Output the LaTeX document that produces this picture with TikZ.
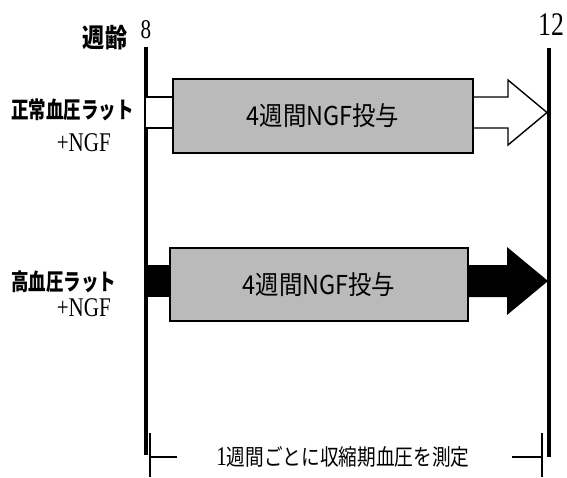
\documentclass[tikz,border=0pt]{standalone}
\usepackage{fontspec}
\setmainfont{Liberation Serif}
\newfontfamily\jplab[FakeStretch=0.76]{Noto Sans CJK JP}
\newfontfamily\jpbox[FakeStretch=0.9]{Noto Sans CJK JP}
\newfontfamily\jpbot[FakeStretch=0.83]{Noto Sans CJK JP}
\newfontfamily\jpage[FakeStretch=0.85]{Noto Sans CJK JP}
\newfontfamily\srf[FakeStretch=0.78]{Liberation Serif}
\tikzset{
  axisline/.style={line width=3.5pt},
  treat/.style={draw, line width=1.6pt, fill=black!27, inner sep=0pt, font=\jpbox\fontsize{26}{26}\selectfont},
  shaft/.style={line width=1.4pt},
  bracket/.style={line width=1.8pt},
  lab/.style={inner sep=0pt, font=\jplab\bfseries\fontsize{23}{23}\selectfont},
  ser/.style={inner sep=0pt, font=\srf\fontsize{27}{27}\selectfont},
}
\begin{document}
\begin{tikzpicture}[x=1pt,y=-1pt]
\useasboundingbox (0,0) rectangle (567,477);
% axes
\coordinate (L0) at (146,47);
\coordinate (L1) at (146,455);
\coordinate (R0) at (549,48);
\coordinate (R1) at (549,457);
\draw[axisline] (L0) -- (L1);
\draw[axisline] (R0) -- (R1);
% header
\node[inner sep=0pt, font=\jpage\bfseries\fontsize{26}{26}\selectfont] (age) at (105,38) {週齢};
\node[ser] (w8) at (146,30) {8};
\node[ser, font=\srf\fontsize{33}{33}\selectfont] (w12) at (551,25) {12};
% labels
\node[lab, anchor=west] (n1) at (11,110) {正常血圧ラット};
\node[ser, anchor=east] (n2) at (111,143) {+NGF};
\node[lab, anchor=west] (h1) at (11,282) {高血圧ラット};
\node[ser, anchor=east] (h2) at (111,308) {+NGF};
% top white arrow
\draw[shaft, fill=white] (146,97) -- (173,97) -- (173,128) -- (146,128);
\draw[shaft, fill=white, line join=miter] (473,97) -- (508,97) -- (508,80) -- (547,112.5) -- (508,145) -- (508,128) -- (473,128);
\node[treat, minimum width=300pt, minimum height=74pt] (b1) at (323,116) {4週間NGF投与};
% bottom black arrow
\fill (146,265) rectangle (170,297);
\fill (466,265) -- (507,265) -- (507,247) -- (548,281) -- (507,315) -- (507,297) -- (466,297) -- cycle;
\node[treat, minimum width=298pt, minimum height=73pt] (b2) at (319,284.5) {4週間NGF投与};
% bracket
\draw[bracket] (150,433) -- (150,477);
\draw[bracket] (150,457) -- (177,457);
\draw[bracket] (542,433) -- (542,477);
\draw[bracket] (512,457) -- (542,457);
\node[inner sep=0pt, font=\jpbot\fontsize{22.5}{22.5}\selectfont] (meas) at (343,457) {{\srf\fontsize{27}{27}\selectfont 1}週間ごとに収縮期血圧を測定};
\end{tikzpicture}
\end{document}
